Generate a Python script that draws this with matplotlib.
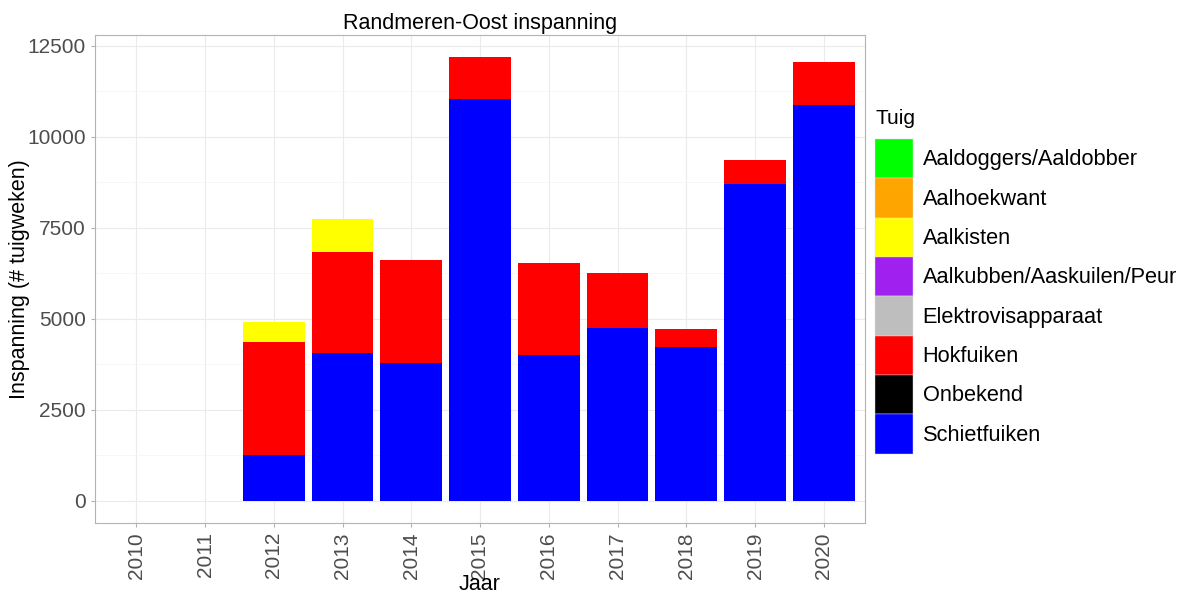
import numpy as np
import matplotlib.pyplot as plt
from matplotlib.patches import Patch
from matplotlib.ticker import MultipleLocator

plt.rcParams['font.family'] = ['Liberation Sans', 'DejaVu Sans']

jaren = ['2010', '2011', '2012', '2013', '2014', '2015', '2016', '2017', '2018', '2019', '2020']
tuigen = ['Aaldoggers/Aaldobber', 'Aalhoekwant', 'Aalkisten', 'Aalkubben/Aaskuilen/Peur',
          'Elektrovisapparaat', 'Hokfuiken', 'Onbekend', 'Schietfuiken']
kleuren = ['#00FF00', '#FFA500', '#FFFF00', '#A020F0', '#BEBEBE', '#FF0000', '#000000', '#0000FF']

# inspanning per tuig (# tuigweken)
schietfuiken = [0, 0, 1250, 4050, 3780, 11040, 4000, 4750, 4210, 8700, 10870]
hokfuiken = [0, 0, 3110, 2790, 2840, 1140, 2520, 1500, 510, 670, 1190]
aalkisten = [0, 0, 550, 900, 0, 0, 0, 0, 0, 0, 0]
nul = [0] * len(jaren)
waarden = {
    'Aaldoggers/Aaldobber': nul,
    'Aalhoekwant': nul,
    'Aalkisten': aalkisten,
    'Aalkubben/Aaskuilen/Peur': nul,
    'Elektrovisapparaat': nul,
    'Hokfuiken': hokfuiken,
    'Onbekend': nul,
    'Schietfuiken': schietfuiken,
}

fig = plt.figure(figsize=(11.91, 5.96), dpi=100)
ax = fig.add_axes([95 / 1191, 1 - 523 / 596, 770 / 1191, 488 / 596])

x = np.arange(len(jaren))
onder = np.zeros(len(jaren))
# stapel van onder naar boven: laatste tuig onderaan (zoals ggplot)
for tuig, kleur in reversed(list(zip(tuigen, kleuren))):
    v = np.array(waarden[tuig], dtype=float)
    ax.bar(x, v, bottom=onder, width=0.9, color=kleur, zorder=3)
    onder += v

totaal = onder.max()
ax.set_xlim(-0.6, len(jaren) - 0.4)
ax.set_ylim(-0.05 * totaal, 1.05 * totaal)
ax.set_xticks(x)
ax.set_xticklabels(jaren, rotation=90, fontsize=15, color='#4D4D4D')
ax.yaxis.set_major_locator(MultipleLocator(2500))
ax.yaxis.set_minor_locator(MultipleLocator(1250))
ax.tick_params(axis='y', labelsize=15, labelcolor='#4D4D4D', length=3, color='#B3B3B3')
ax.tick_params(axis='x', length=3, color='#B3B3B3')
ax.tick_params(which='minor', length=0)
ax.grid(which='major', color='#EBEBEB', linewidth=0.8, zorder=0)
ax.grid(which='minor', color='#F4F4F4', linewidth=0.5, zorder=0)
ax.set_axisbelow(True)
for s in ax.spines.values():
    s.set_color('#B3B3B3')

ax.set_xlabel('Jaar', fontsize=15.5, labelpad=-3)
ax.set_ylabel('Inspanning (# tuigweken)', fontsize=15.5)
ax.yaxis.set_label_coords(-0.084, 0.5)
ax.set_title('Randmeren-Oost inspanning', fontsize=15.5, pad=4)

# legenda: titel los, sleutels aaneengesloten
fig.text(875 / 1191, 1 - 119 / 596, 'Tuig', fontsize=15, va='center', ha='left')
handles = [Patch(facecolor=k, edgecolor='#E0E0E0', linewidth=0.3) for k in kleuren]
leg = fig.legend(handles, tuigen, loc='upper left',
                 bbox_to_anchor=(864 / 1191, 1 - 128 / 596), frameon=False,
                 fontsize=15.7, handlelength=1.74, handleheight=2.4,
                 labelspacing=0.0, handletextpad=0.45, borderpad=0.0)

fig.savefig('out.png', dpi=100)
